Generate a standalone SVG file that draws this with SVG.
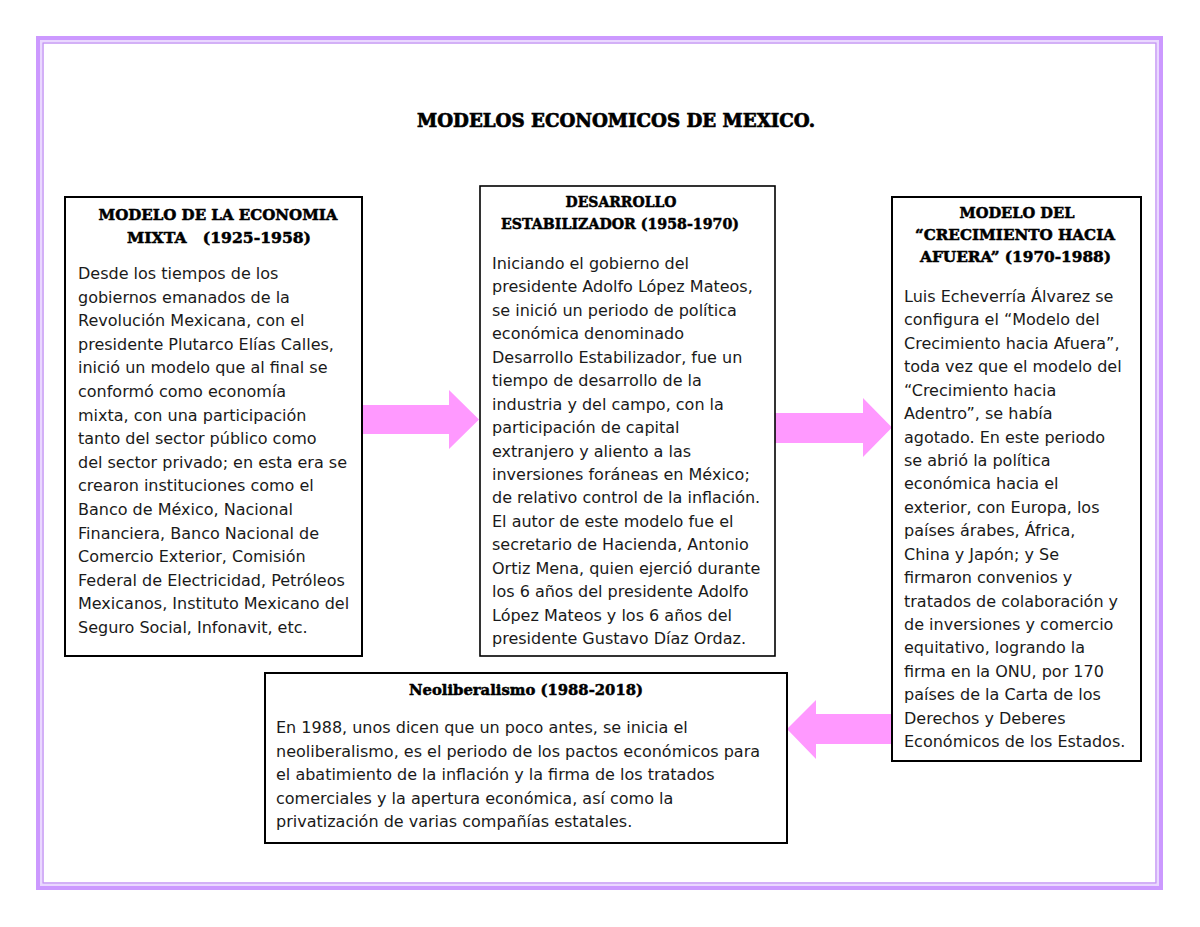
<svg xmlns="http://www.w3.org/2000/svg" width="1200" height="927" viewBox="0 0 1200 927">
<style>
.frame1{fill:none;stroke:#cc99ff;stroke-width:4}
.frame2{fill:none;stroke:#ead8ff;stroke-width:2}
.frame3{fill:none;stroke:#c596f5;stroke-width:1.5}
.box{fill:#fff;stroke:#000;stroke-width:2}
.arrow{fill:#ff99ff;stroke:none}
.hd{font-family:"DejaVu Serif",serif;font-weight:bold;font-size:14.5px;fill:#000;stroke:#000;stroke-width:0.5;text-anchor:middle}
.title{font-family:"DejaVu Serif",serif;font-weight:bold;font-size:18px;fill:#000;stroke:#000;stroke-width:0.7;text-anchor:middle}
.body{font-family:"DejaVu Sans",sans-serif;font-size:16px;fill:#1a1a1a}
</style>
<rect width="1200" height="927" fill="#fff"/>
<rect class="frame1" x="38" y="38" width="1123" height="850"/>
<rect class="frame2" x="41" y="41" width="1117" height="844"/>
<rect class="frame3" x="43" y="43" width="1113" height="840"/>
<text class="title" x="616" y="127" textLength="398" lengthAdjust="spacingAndGlyphs">MODELOS ECONOMICOS DE MEXICO.</text>
<g id="connectors">
<polygon class="arrow" points="362,405 449,405 449,390 479,419.5 449,449 449,434 362,434"/>
<polygon class="arrow" points="775,413 863,413 863,398 892,427.5 863,457 863,443 775,443"/>
<polygon class="arrow" points="892,714 816,714 816,700 787,729 816,759 816,744 892,744"/>
</g>
<g id="node-mixta">
<rect class="box" x="65" y="197" width="297" height="459"/>
<text class="hd" x="218" y="220" textLength="239" lengthAdjust="spacingAndGlyphs">MODELO DE LA ECONOMIA</text>
<text class="hd" x="219" y="243" textLength="184" lengthAdjust="spacingAndGlyphs" xml:space="preserve">MIXTA   (1925-1958)</text>
<text class="body" x="78">
<tspan x="78" y="279">Desde los tiempos de los</tspan>
<tspan x="78" y="302.6">gobiernos emanados de la</tspan>
<tspan x="78" y="326.2">Revolución Mexicana, con el</tspan>
<tspan x="78" y="349.8">presidente Plutarco Elías Calles,</tspan>
<tspan x="78" y="373.4">inició un modelo que al final se</tspan>
<tspan x="78" y="397">conformó como economía</tspan>
<tspan x="78" y="420.6">mixta, con una participación</tspan>
<tspan x="78" y="444.2">tanto del sector público como</tspan>
<tspan x="78" y="467.8">del sector privado; en esta era se</tspan>
<tspan x="78" y="491.4">crearon instituciones como el</tspan>
<tspan x="78" y="515">Banco de México, Nacional</tspan>
<tspan x="78" y="538.6">Financiera, Banco Nacional de</tspan>
<tspan x="78" y="562.2">Comercio Exterior, Comisión</tspan>
<tspan x="78" y="585.8">Federal de Electricidad, Petróleos</tspan>
<tspan x="78" y="609.4">Mexicanos, Instituto Mexicano del</tspan>
<tspan x="78" y="633">Seguro Social, Infonavit, etc.</tspan>
</text>
</g>
<g id="node-estabilizador">
<rect class="box" x="480" y="186" width="295" height="470" style="stroke-width:1.6"/>
<text class="hd" x="621" y="207" textLength="111" lengthAdjust="spacingAndGlyphs">DESARROLLO</text>
<text class="hd" x="620" y="229" textLength="238" lengthAdjust="spacingAndGlyphs">ESTABILIZADOR (1958-1970)</text>
<text class="body">
<tspan x="492" y="269">Iniciando el gobierno del</tspan>
<tspan x="492" y="292.4">presidente Adolfo López Mateos,</tspan>
<tspan x="492" y="315.9">se inició un periodo de política</tspan>
<tspan x="492" y="339.3">económica denominado</tspan>
<tspan x="492" y="362.8">Desarrollo Estabilizador, fue un</tspan>
<tspan x="492" y="386.2">tiempo de desarrollo de la</tspan>
<tspan x="492" y="409.6">industria y del campo, con la</tspan>
<tspan x="492" y="433.1">participación de capital</tspan>
<tspan x="492" y="456.5">extranjero y aliento a las</tspan>
<tspan x="492" y="480">inversiones foráneas en México;</tspan>
<tspan x="492" y="503.4">de relativo control de la inflación.</tspan>
<tspan x="492" y="526.8">El autor de este modelo fue el</tspan>
<tspan x="492" y="550.3">secretario de Hacienda, Antonio</tspan>
<tspan x="492" y="573.7">Ortiz Mena, quien ejerció durante</tspan>
<tspan x="492" y="597.2">los 6 años del presidente Adolfo</tspan>
<tspan x="492" y="620.6">López Mateos y los 6 años del</tspan>
<tspan x="492" y="644">presidente Gustavo Díaz Ordaz.</tspan>
</text>
</g>
<g id="node-afuera">
<rect class="box" x="892" y="197" width="249" height="564"/>
<text class="hd" x="1017" y="218" textLength="115" lengthAdjust="spacingAndGlyphs">MODELO DEL</text>
<text class="hd" x="1015" y="240" textLength="200" lengthAdjust="spacingAndGlyphs">“CRECIMIENTO HACIA</text>
<text class="hd" x="1015.5" y="262" textLength="191" lengthAdjust="spacingAndGlyphs">AFUERA” (1970-1988)</text>
<text class="body">
<tspan x="904" y="302">Luis Echeverría Álvarez se</tspan>
<tspan x="904" y="325.4">configura el “Modelo del</tspan>
<tspan x="904" y="348.8">Crecimiento hacia Afuera”,</tspan>
<tspan x="904" y="372.3">toda vez que el modelo del</tspan>
<tspan x="904" y="395.7">“Crecimiento hacia</tspan>
<tspan x="904" y="419.1">Adentro”, se había</tspan>
<tspan x="904" y="442.5">agotado. En este periodo</tspan>
<tspan x="904" y="465.9">se abrió la política</tspan>
<tspan x="904" y="489.4">económica hacia el</tspan>
<tspan x="904" y="512.8">exterior, con Europa, los</tspan>
<tspan x="904" y="536.2">países árabes, África,</tspan>
<tspan x="904" y="559.6">China y Japón; y Se</tspan>
<tspan x="904" y="583">firmaron convenios y</tspan>
<tspan x="904" y="606.5">tratados de colaboración y</tspan>
<tspan x="904" y="629.9">de inversiones y comercio</tspan>
<tspan x="904" y="653.3">equitativo, logrando la</tspan>
<tspan x="904" y="676.7">firma en la ONU, por 170</tspan>
<tspan x="904" y="700.1">países de la Carta de los</tspan>
<tspan x="904" y="723.6">Derechos y Deberes</tspan>
<tspan x="904" y="747">Económicos de los Estados.</tspan>
</text>
</g>
<g id="node-neoliberalismo">
<rect class="box" x="265" y="673" width="522" height="170"/>
<text class="hd" x="526" y="695" textLength="234" lengthAdjust="spacingAndGlyphs">Neoliberalismo (1988-2018)</text>
<text class="body">
<tspan x="276" y="733">En 1988, unos dicen que un poco antes, se inicia el</tspan>
<tspan x="276" y="756.5">neoliberalismo, es el periodo de los pactos económicos para</tspan>
<tspan x="276" y="780">el abatimiento de la inflación y la firma de los tratados</tspan>
<tspan x="276" y="803.5">comerciales y la apertura económica, así como la</tspan>
<tspan x="276" y="827">privatización de varias compañías estatales.</tspan>
</text>
</g>
</svg>
